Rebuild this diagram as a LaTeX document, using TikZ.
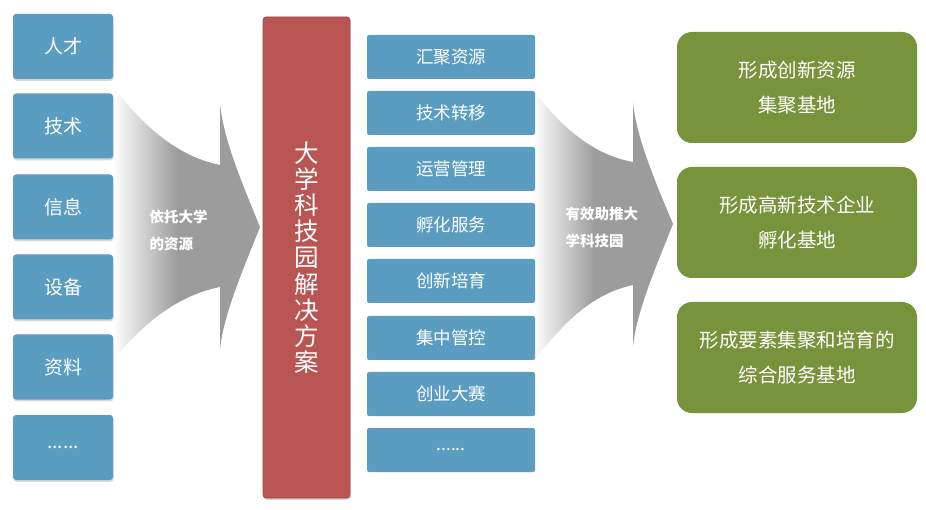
\documentclass[tikz,border=0pt]{standalone}
\usepackage{fontspec}
\setmainfont{Noto Sans CJK SC}
\usetikzlibrary{shadows}
\definecolor{itemblue}{RGB}{91,157,192}
\definecolor{schemered}{RGB}{185,85,82}
\definecolor{baseolive}{RGB}{119,147,59}
\definecolor{arrowgray}{RGB}{156,156,156}
\pgfdeclarehorizontalshading{arrowfade}{100bp}{color(0bp)=(white); color(25bp)=(white); color(47bp)=(arrowgray); color(100bp)=(arrowgray)}

\begin{document}
\begin{tikzpicture}[x=1pt, y=-1pt,
    softshadow/.style={drop shadow={shadow xshift=0.6pt, shadow yshift=-1.8pt, opacity=0.3}},
    resbox/.style={fill=itemblue, rounded corners=3pt, text=white, minimum width=100pt, minimum height=65pt, inner sep=0pt, font=\fontsize{19}{22}\selectfont, softshadow},
    stepbox/.style={fill=itemblue, rounded corners=2pt, text=white, minimum width=168pt, minimum height=44pt, inner sep=0pt, font=\fontsize{17.5}{20}\selectfont},
    basebox/.style={fill=baseolive, rounded corners=15pt, text=white, minimum width=240pt, minimum height=111pt, inner sep=0pt, align=center, font=\fontsize{19.5}{35}\selectfont},
    arrowtext/.style={text=white, align=left, anchor=west, font=\fontsize{14.5}{27}\selectfont\bfseries}]
    \useasboundingbox (0,0) rectangle (926,510);

    % Swoosh arrows
    \path[shading=arrowfade] (113,87) .. controls (150,135) and (185,158) .. (220,165)
        -- (220,103) .. controls (223,140) and (245,190) .. (260,227)
        .. controls (245,265) and (223,315) .. (220,350)
        -- (220,287) .. controls (185,294) and (150,315) .. (113,360) -- cycle;
    \path[shading=arrowfade] (533,90) .. controls (568,136) and (600,156) .. (633,162)
        -- (633,102) .. controls (636,138) and (658,188) .. (673,224)
        .. controls (658,262) and (636,312) .. (633,347)
        -- (633,285) .. controls (600,292) and (568,314) .. (533,363) -- cycle;
    \node[arrowtext] (relylabel) at (146,230) {依托大学\\的资源};
    \node[arrowtext] (pushlabel) at (562,227) {有效助推大\\学科技园};

    % Resources
    \node[resbox] (talent) at (63,46.5) {人才};
    \node[resbox] (tech) at (63,126) {技术};
    \node[resbox] (info) at (63,207) {信息};
    \node[resbox] (equip) at (63,287) {设备};
    \node[resbox] (docs) at (63,367) {资料};
    \node[resbox] (moreres) at (63,447.5) {......};

    % Scheme
    \node[fill=schemered, draw=schemered!85!black, line width=0.6pt, rounded corners=3pt, softshadow,
        minimum width=87pt, minimum height=481pt, inner sep=0pt, text=white, align=center,
        font=\fontsize{24.5}{26.2}\selectfont] (scheme) at (306.5,257.5)
        {大\\学\\科\\技\\园\\解\\决\\方\\案};

    % Services
    \node[stepbox] (gather) at (451,57) {汇聚资源};
    \node[stepbox] (transfer) at (451,113) {技术转移};
    \node[stepbox] (operate) at (451,169) {运营管理};
    \node[stepbox] (incubate) at (451,225) {孵化服务};
    \node[stepbox] (cultivate) at (451,281) {创新培育};
    \node[stepbox] (control) at (451,338) {集中管控};
    \node[stepbox] (contest) at (451,394) {创业大赛};
    \node[stepbox] (moresteps) at (451,450) {......};

    % Bases
    \node[basebox] (resbase) at (797,87.5) {\raisebox{-3pt}{\parbox{230pt}{\centering 形成创新资源\\集聚基地}}};
    \node[basebox] (hatchbase) at (797,222.5) {\raisebox{-3pt}{\parbox{230pt}{\centering 形成高新技术企业\\孵化基地}}};
    \node[basebox] (servbase) at (797,357.5) {\raisebox{-3pt}{\parbox{230pt}{\centering 形成要素集聚和培育的\\综合服务基地}}};
\end{tikzpicture}
\end{document}
